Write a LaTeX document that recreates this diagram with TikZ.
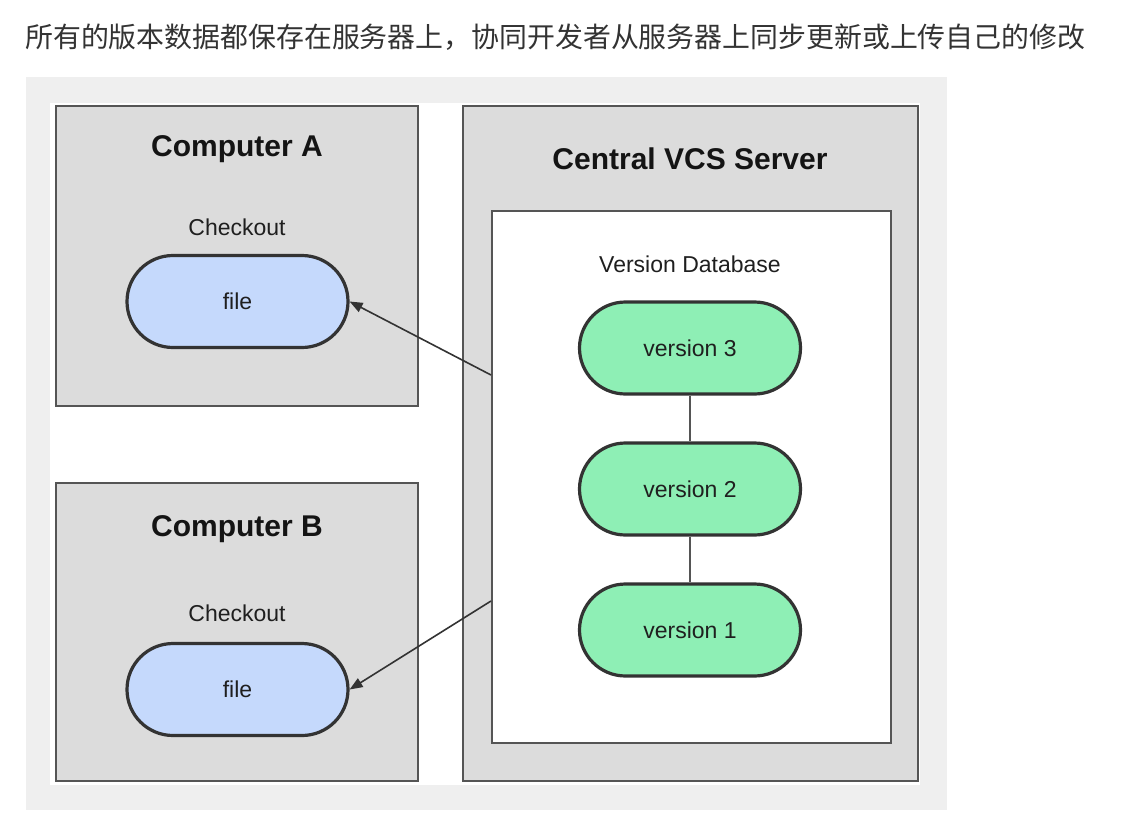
\documentclass[tikz,border=0pt]{standalone}
\usepackage{fontspec}
\setmainfont{Liberation Sans}
\newfontfamily\cjk{Noto Sans CJK SC}
\usetikzlibrary{arrows.meta}
\definecolor{outergray}{HTML}{EFEFEF}
\definecolor{boxgray}{HTML}{DCDCDC}
\definecolor{boxline}{HTML}{555555}
\definecolor{fileblue}{HTML}{C5D9FC}
\definecolor{vergreen}{HTML}{8EEFB5}
\definecolor{darkline}{HTML}{333333}
\definecolor{titlecol}{HTML}{333333}
\tikzset{
  panel/.style={draw=boxline, line width=2.4pt, fill=boxgray},
  dbbox/.style={draw=boxline, line width=2.4pt, fill=white},
  pill/.style={draw=darkline, line width=3.2pt, rounded corners=46pt,
    minimum width=221pt, minimum height=92pt, inner sep=0pt,
    font=\fontsize{23}{27}\selectfont, text=black!88},
  filepill/.style={pill, fill=fileblue},
  verpill/.style={pill, fill=vergreen},
  bigtitle/.style={font=\fontsize{30}{36}\selectfont\bfseries, text=black!92},
  smalllabel/.style={font=\fontsize{23}{27}\selectfont, text=black!88},
  fetch/.style={draw=darkline, line width=1.6pt, -{Triangle[length=13pt,width=10pt]}},
  chain/.style={draw=boxline, line width=2pt}
}
\begin{document}
\begin{tikzpicture}[x=1pt,y=-1pt]
\useasboundingbox (0,0) rectangle (1125,812);
\fill[white] (0,0) rectangle (1125,812);
% title
\node[anchor=west, inner sep=0pt, text=titlecol, font=\cjk\fontsize{27.9}{32}\selectfont] (title) at (25,37) {所有的版本数据都保存在服务器上，协同开发者从服务器上同步更新或上传自己的修改};
% background frame
\fill[outergray] (26,77) rectangle (947,810);
\fill[white] (50,103) rectangle (920,785);
% panels
\draw[panel] (56,106) rectangle (418,406);
\draw[panel] (56,483) rectangle (418,781);
\draw[panel] (463,106) rectangle (918,781);
\node[dbbox, minimum width=399pt, minimum height=532pt, inner sep=0pt] (db) at (691.5,477) {};
% labels
\node[bigtitle] (compA) at (237,149) {Computer A};
\node[bigtitle] (compB) at (237,529) {Computer B};
\node[bigtitle] (server) at (690,159) {Central VCS Server};
\node[smalllabel] (chkA) at (237,227) {Checkout};
\node[smalllabel] (chkB) at (237,613) {Checkout};
\node[smalllabel] (vdb) at (690,264) {Version Database};
% files
\node[filepill] (fileA) at (237.5,301.5) {file};
\node[filepill] (fileB) at (237.5,689.5) {file};
% versions
\node[verpill] (v3) at (690,348) {version 3};
\node[verpill] (v2) at (690,489) {version 2};
\node[verpill] (v1) at (690,630) {version 1};
\draw[chain] (v3.south) -- (v2.north);
\draw[chain] (v2.south) -- (v1.north);
% arrows
\coordinate (sA) at (491,375);
\coordinate (sB) at (491,601);
\draw[fetch] (sA) -- (fileA.east);
\draw[fetch] (sB) -- (fileB.east);
\end{tikzpicture}
\end{document}
